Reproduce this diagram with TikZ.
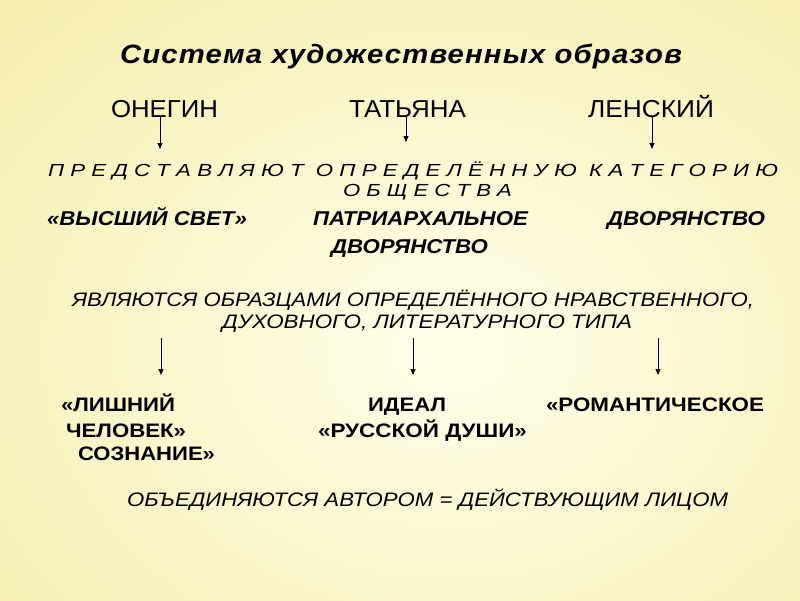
\documentclass[tikz,border=0pt]{standalone}
\usepackage{fontspec}
\usepackage{graphicx}
\setmainfont{Liberation Sans}
\usetikzlibrary{arrows.meta}
\newcommand\fitw[2]{\setbox0=\hbox{#2}\pgfmathsetmacro\fitsx{#1/\the\wd0}\scalebox{\fitsx}[1]{\box0}}
\definecolor{bgin}{RGB}{255,255,234}
\definecolor{bgout}{RGB}{246,238,176}
\tikzset{
  txtbase/.style={inner sep=0pt, anchor=base, text=black},
  ttlstyle/.style={txtbase, font=\fontsize{26.5}{30}\selectfont\bfseries\itshape\addfontfeatures{LetterSpace=4}},
  nmstyle/.style={txtbase, font=\fontsize{24.5}{28}\selectfont},
  spacedstyle/.style={txtbase, font=\fontsize{17.5}{20}\selectfont\itshape},
  bistyle/.style={txtbase, font=\fontsize{20}{24}\selectfont\bfseries\itshape},
  itstyle/.style={txtbase, font=\fontsize{19.5}{24}\selectfont\itshape},
  bustyle/.style={txtbase, font=\fontsize{19.5}{24}\selectfont\bfseries},
  arr/.style={draw=black, line width=0.8pt, -{Triangle[length=6pt,width=5pt]}}
}
\begin{document}
\begin{tikzpicture}[x=1pt,y=-1pt]
\useasboundingbox (0,0) rectangle (800,600);
\shade[inner color=bgin, outer color=bgout] (-150,-120) rectangle (1050,820);
% title
\node[ttlstyle] (title) at (401,63) {\fitw{562}{Система художественных образов}};
% names
\node[nmstyle] (oneg) at (164.5,117) {\fitw{107}{ОНЕГИН}};
\node[nmstyle] (tat) at (407.5,117) {\fitw{117}{ТАТЬЯНА}};
\node[nmstyle] (len) at (651,117) {\fitw{126}{ЛЕНСКИЙ}};
% arrows from names
\coordinate (a1e) at (160,149);
\coordinate (a2e) at (406,142);
\coordinate (a3e) at (652,149);
\draw[arr] (oneg.base -| a1e) -- (a1e);
\draw[arr] (tat.base -| a2e) -- (a2e);
\draw[arr] (len.base -| a3e) -- (a3e);
% spaced line
\node[spacedstyle] (pred1) at (413,176) {\fitw{730}{П Р Е Д С Т А В Л Я Ю Т \ О П Р Е Д Е Л Ё Н Н У Ю \ К А Т Е Г О Р И Ю}};
\node[spacedstyle] (pred2) at (427.5,196) {\fitw{169}{О Б Щ Е С Т В А}};
% categories
\node[bistyle] (vs) at (147,225) {\fitw{200}{«ВЫСШИЙ СВЕТ»}};
\node[bistyle] (pat1) at (420.5,225) {\fitw{215}{ПАТРИАРХАЛЬНОЕ}};
\node[bistyle] (pat2) at (409.5,253) {\fitw{157}{ДВОРЯНСТВО}};
\node[bistyle] (dvor) at (686,225) {\fitw{158}{ДВОРЯНСТВО}};
% second statement
\node[itstyle] (yav1) at (413,306) {\fitw{682}{ЯВЛЯЮТСЯ ОБРАЗЦАМИ ОПРЕДЕЛЁННОГО НРАВСТВЕННОГО,}};
\node[itstyle] (yav2) at (427,328) {\fitw{410}{ДУХОВНОГО, ЛИТЕРАТУРНОГО ТИПА}};
% arrows
\coordinate (b1s) at (161,338); \coordinate (b1e) at (161,375);
\coordinate (b2s) at (413,338); \coordinate (b2e) at (413,375);
\coordinate (b3s) at (658,338); \coordinate (b3e) at (658,375);
\draw[arr] (b1s) -- (b1e);
\draw[arr] (b2s) -- (b2e);
\draw[arr] (b3s) -- (b3e);
% types
\node[bustyle] (li1) at (118,411) {\fitw{114}{«ЛИШНИЙ}};
\node[bustyle] (li2) at (126,437.5) {\fitw{120}{ЧЕЛОВЕК»}};
\node[bustyle] (li3) at (146.5,460) {\fitw{137}{СОЗНАНИЕ»}};
\node[bustyle] (id1) at (407,411) {\fitw{78}{ИДЕАЛ}};
\node[bustyle] (id2) at (422.5,437.5) {\fitw{209}{«РУССКОЙ ДУШИ»}};
\node[bustyle] (rom) at (655,411) {\fitw{218}{«РОМАНТИЧЕСКОЕ}};
% bottom
\node[itstyle] (obj) at (427.5,506) {\fitw{601}{ОБЪЕДИНЯЮТСЯ АВТОРОМ = ДЕЙСТВУЮЩИМ ЛИЦОМ}};
\end{tikzpicture}
\end{document}
